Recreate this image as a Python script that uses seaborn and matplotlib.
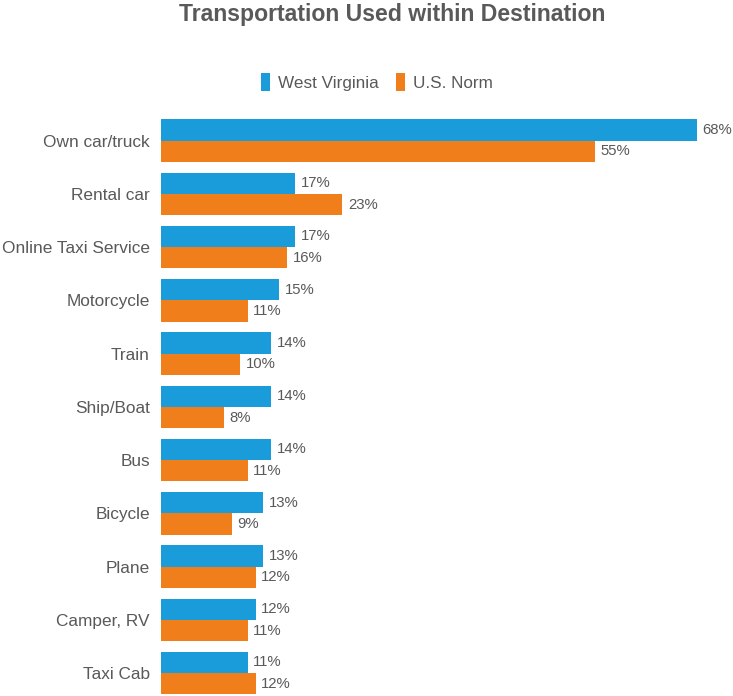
import matplotlib
matplotlib.use("Agg")
import matplotlib.pyplot as plt
import seaborn as sns
import pandas as pd
from matplotlib.patches import Patch

categories = ["Own car/truck", "Rental car", "Online Taxi Service", "Motorcycle", "Train",
              "Ship/Boat", "Bus", "Bicycle", "Plane", "Camper, RV", "Taxi Cab"]
west_virginia = [68, 17, 17, 15, 14, 14, 14, 13, 13, 12, 11]
us_norm = [55, 23, 16, 11, 10, 8, 11, 9, 12, 11, 12]
series_names = ["West Virginia", "U.S. Norm"]
colors = ["#1A9BDA", "#F07E1B"]

df = pd.DataFrame({
    "category": categories * 2,
    "value": west_virginia + us_norm,
    "series": [series_names[0]] * len(categories) + [series_names[1]] * len(categories),
})

sns.set_style("white")
plt.rcParams["font.family"] = ["Liberation Sans", "DejaVu Sans"]
text_color = "#595959"

fig = plt.figure(figsize=(7.33, 6.96), dpi=100)
ax = fig.add_axes([161 / 733, 0.0, (697 - 161) / 733, 582 / 696])

sns.barplot(data=df, y="category", x="value", hue="series", order=categories,
            hue_order=series_names, palette=colors, width=0.8, saturation=1,
            orient="h", ax=ax, legend=False, linewidth=0)

ax.set_xlim(0, 68)
ax.set_ylim(10.43, -0.5)
ax.set_xlabel("")
ax.set_ylabel("")
ax.set_xticks([])
for s in ax.spines.values():
    s.set_visible(False)
ax.tick_params(axis="y", length=0, pad=8, labelsize=12.4, labelcolor=text_color)

for container in ax.containers:
    labels = ax.bar_label(container, fmt="{:.0f}%", padding=4, fontsize=10.7, color=text_color)
    for t in labels:
        t.set_clip_on(False)

fig.text(392 / 733, 1 - 14 / 696, "Transportation Used within Destination",
         ha="center", va="center", fontsize=16.6, fontweight="bold", color=text_color)

handles = [Patch(facecolor=c, edgecolor="none", label=n) for c, n in zip(colors, series_names)]
fig.legend(handles=handles, loc="center", bbox_to_anchor=(377 / 733, 1 - 82 / 696), ncol=2,
           frameon=False, fontsize=12.3, labelcolor=text_color, handlelength=0.5,
           handleheight=1.2, handletextpad=0.5, columnspacing=1.0)

fig.savefig("out.png", dpi=100)
